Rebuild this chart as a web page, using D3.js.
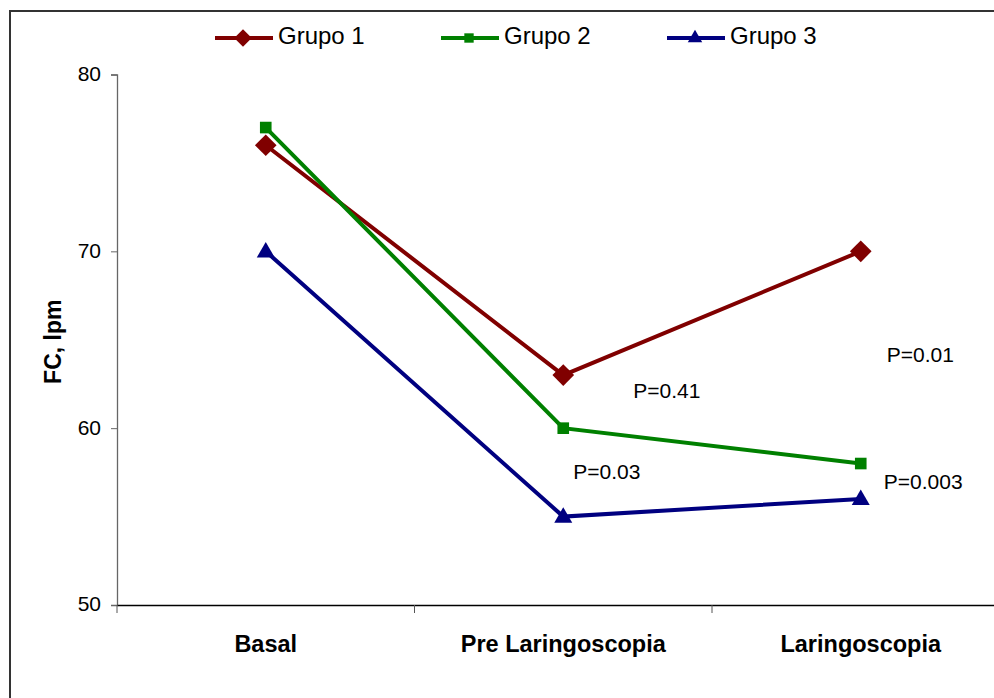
<!DOCTYPE html>
<html>
<head>
<meta charset="utf-8">
<script src="https://cdn.jsdelivr.net/npm/d3@7"></script>
<style>
  body { margin: 0; background: #fff; }
  svg { display: block; font-family: Arial, "Liberation Sans", sans-serif; }
</style>
</head>
<body>
<div id="chart"></div>
<script>
// Dades
const categories = ["Basal", "Pre Laringoscopia", "Laringoscopia"];
const seriesNames = ["Grupo 1", "Grupo 2", "Grupo 3"];
const grupo1 = [76, 63, 70];
const grupo2 = [77, 60, 58];
const grupo3 = [70, 55, 56];
const yTicks = [50, 60, 70, 80];
const pTexts = ["P=0.41", "P=0.03", "P=0.01", "P=0.003"];
const pCategories = ["Pre Laringoscopia", "Pre Laringoscopia", "Laringoscopia", "Laringoscopia"];

// Dimensions
const width = 994;
const height = 698;
const margin = { top: 74.5, left: 117, bottom: 93 };
const bandW = 297.5;

const colors = ["#800000", "#008000", "#000080"];
// diamant = quadrat girat 45 graus
const symbols = [d3.symbolSquare, d3.symbolSquare, d3.symbolTriangle];
const rotations = [45, 0, 0];
const symSizes = [235, 135, 140];

const svg = d3.select("#chart")
    .append("svg")
    .attr("width", width)
    .attr("height", height);

// Marc
svg.append("rect")
    .attr("x", 10).attr("y", 11)
    .attr("width", width + 20).attr("height", height + 20)
    .attr("fill", "none")
    .attr("stroke", "#333")
    .attr("stroke-width", 2);

// Escales
const x = d3.scaleBand()
    .domain(categories)
    .range([margin.left, margin.left + bandW * categories.length]);

const y = d3.scaleLinear()
    .domain([50, 80])
    .range([height - margin.bottom, margin.top]);

const cx = c => x(c) + x.bandwidth() / 2;

// eix Y
const yAxis = svg.append("g")
    .attr("transform", `translate(${margin.left},0)`)
    .call(d3.axisLeft(y).tickValues(yTicks).tickSize(6).tickPadding(10));
yAxis.select(".domain").attr("stroke", "#666").attr("stroke-width", 1.3);
yAxis.selectAll(".tick line").attr("stroke", "#666");
yAxis.selectAll("text")
    .style("font-size", "21px")
    .attr("fill", "#000")
    .attr("dy", "0.28em");

// eix X
const xAxis = svg.append("g")
    .attr("transform", `translate(0,${y(50)})`)
    .call(d3.axisBottom(x).tickSize(0).tickPadding(30));
xAxis.select(".domain").attr("stroke", "#000").attr("stroke-width", 1.5);
xAxis.selectAll("text")
    .style("font-size", "23.5px")
    .style("font-weight", "bold")
    .attr("fill", "#000");

// ticks entre categories
svg.append("g")
    .selectAll("line")
    .data(categories)
    .enter()
    .append("line")
    .attr("x1", d => x(d)).attr("x2", d => x(d))
    .attr("y1", y(50)).attr("y2", y(50) + 8)
    .attr("stroke", "#555");

// Títol eix Y
svg.append("text")
    .attr("transform", `translate(61,${(y(80) + y(50)) / 2 + 2}) rotate(-90)`)
    .attr("text-anchor", "middle")
    .style("font-size", "23px")
    .style("font-weight", "bold")
    .text("FC, lpm");

// Línies
const series = [grupo1, grupo2, grupo3];
const line = d3.line()
    .x((d, i) => cx(categories[i]))
    .y(d => y(d));

series.forEach((vals, s) => {
    svg.append("path")
        .datum(vals)
        .attr("d", line)
        .attr("fill", "none")
        .attr("stroke", colors[s])
        .attr("stroke-width", 4);
    svg.selectAll(null)
        .data(vals)
        .enter()
        .append("path")
        .attr("d", d3.symbol().type(symbols[s]).size(symSizes[s]))
        .attr("transform", (d, i) => `translate(${cx(categories[i])},${y(d) + (s === 2 ? 1 : 0)}) rotate(${rotations[s]})`)
        .attr("fill", colors[s]);
});

// Valors P
const pPlace = [[70, 61.7], [10, 57.13], [26, 63.75], [23, 56.56]];
svg.selectAll("text.pval")
    .data(pTexts)
    .enter()
    .append("text")
    .attr("class", "pval")
    .attr("x", (d, i) => cx(pCategories[i]) + pPlace[i][0])
    .attr("y", (d, i) => y(pPlace[i][1]))
    .style("font-size", "21px")
    .text(d => d);

// Llegenda
const leg = svg.append("g");
seriesNames.forEach((name, s) => {
    const lx = 215 + s * 226;
    const ly = 38;
    leg.append("line")
        .attr("x1", lx).attr("x2", lx + 58)
        .attr("y1", ly).attr("y2", ly)
        .attr("stroke", colors[s])
        .attr("stroke-width", 4);
    leg.append("path")
        .attr("d", d3.symbol().type(symbols[s]).size(symSizes[s] * 0.65))
        .attr("transform", `translate(${lx + 28},${ly}) rotate(${rotations[s]})`)
        .attr("fill", colors[s]);
    leg.append("text")
        .attr("x", lx + 63)
        .attr("y", ly + 6)
        .style("font-size", "24px")
        .text(name);
});
</script>
</body>
</html>
